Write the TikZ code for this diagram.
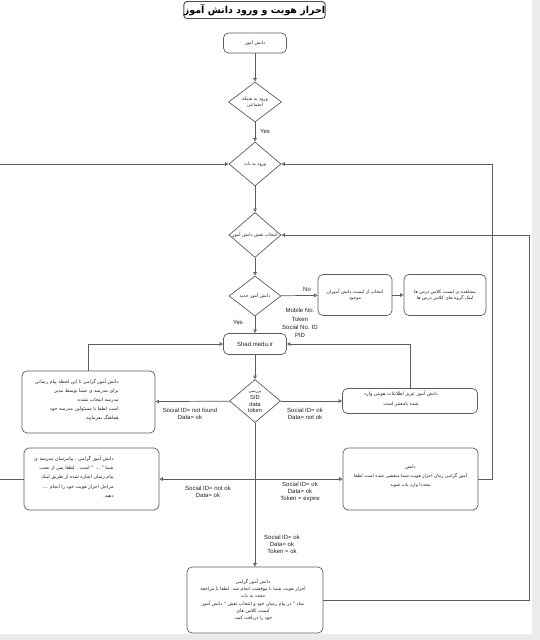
\documentclass[tikz,border=0pt]{standalone}
\usepackage{fontspec}
\setmainfont{Liberation Sans}
\newfontfamily\arabicfont[Script=Arabic]{DejaVu Sans}
\TeXXeTstate=1
\usetikzlibrary{shapes.geometric,arrows.meta}
\newcommand\fa[1]{{\arabicfont\beginR #1\endR}}
\definecolor{linec}{HTML}{5C5C5C}
\definecolor{txt}{HTML}{222222}
\begin{document}
\begin{tikzpicture}[x=1pt,y=-1pt,line width=0.7pt,
  box/.style={draw=linec, rounded corners=5pt, fill=white, inner sep=0pt},
  dia/.style={draw=linec, diamond, fill=white, inner sep=0pt},
  conn/.style={draw=linec, -{Triangle[open,length=3.5pt,width=3.5pt]}},
  plain/.style={draw=linec},
  fa/.style={font=\fontsize{4.6}{5.8}\selectfont, text=txt, align=center, inner sep=0pt},
  lab/.style={font=\fontsize{6}{7}\selectfont, text=txt, align=center, inner sep=0pt},
]
\useasboundingbox (0,0) rectangle (540,640);
\fill[white] (0,0) rectangle (540,640);
\fill[black!8] (532,0) rectangle (540,640);
\fill[black!8] (0,634) rectangle (540,640);

% title
\node[box, draw=black!70, line width=0.9pt, minimum width=135pt, minimum height=17pt, rounded corners=3pt] (title) at (254.5,10)
  {\fontsize{9.5}{11}\selectfont\bfseries\fa{احراز هویت و ورود دانش آموز}};

% main column
\node[box, minimum width=63pt, minimum height=20pt] (start) at (255,43) {};
\node[fa] (startt) at (start) {\fa{دانش آموز}};
\node[dia, minimum width=53pt, minimum height=40pt] (d1) at (255,102) {};
\node[fa] (d1t) at (d1) {\fa{ورود به شبکه}\\\fa{اجتماعی}};
\node[dia, minimum width=52pt, minimum height=44pt] (d2) at (255,164) {};
\node[fa] (d2t) at (d2) {\fa{ورود به بات}};
\node[dia, minimum width=52pt, minimum height=45pt] (d3) at (255,235) {};
\node[fa] (d3t) at (d3) {\fa{انتخاب نقش دانش آموز}};
\node[dia, minimum width=52pt, minimum height=40pt] (d4) at (255,296) {};
\node[fa] (d4t) at (d4) {\fa{دانش آموز جدید}};
\node[box, minimum width=74pt, minimum height=41pt] (box5) at (355,295) {};
\node[fa] (box5t) at (box5) {\fa{انتخاب از لیست دانش آموزان}\\\fa{موجود}};
\node[box, minimum width=82pt, minimum height=41pt] (box6) at (445,295) {};
\node[fa] (box6t) at (box6) {\fa{مشاهده ی لیست کلاس درس ها}\\\fa{لینک گروه های کلاس درس ها}};
\node[box, minimum width=63pt, minimum height=21pt] (shad) at (255,344) {};
\node[lab] (shadt) at (shad) {Shad.medu.ir};
\node[dia, minimum width=51pt, minimum height=43pt] (d5) at (255,401) {};
\node[lab, font=\fontsize{5.8}{6.6}\selectfont] (d5t) at (255,402) {{\fontsize{4.3}{5}\selectfont\fa{بررسی}}\\SID\\data\\token};

% side boxes
\node[box, minimum width=133pt, minimum height=62pt] (box7) at (88.5,402) {};
\node[fa, align=right, font=\fontsize{4.8}{9}\selectfont, anchor=east] (box7t) at (119,400)
  {\fa{دانش آموز گرامی تا این لحظه پیام رسانی}\\\fa{برای مدرسه ی شما توسط مدیر}\\\fa{مدرسه انتخاب نشده}\\\fa{است لطفا با مسئولین مدرسه خود}\\\fa{هماهنگ بفرمایید.}};
\node[box, minimum width=135pt, minimum height=25pt] (box8) at (410,401) {};
\node[fa, font=\fontsize{4.8}{10}\selectfont] (box8t) at (401,399) {\fa{دانش آموز عزیز اطلاعات هویتی وارد}\\\fa{شده نامعتبر است}};
\node[box, minimum width=135pt, minimum height=62pt] (box9) at (91.5,479) {};
\node[fa, align=right, font=\fontsize{4.8}{9.3}\selectfont, anchor=east] (box9t) at (114,477)
  {\fa{دانش آموز گرامی ، پیامرسان مدرسه ی}\\\fa{شما " ... " است . لطفا پس از نصب}\\\fa{پیام رسان اشاره شده از طریق لینک}\\.... \fa{مراحل احراز هویت خود را انجام}\\\fa{دهید.}};
\node[box, minimum width=135pt, minimum height=62pt] (box10) at (410.5,479) {};
\node[fa, font=\fontsize{4.6}{9}\selectfont] (box10t) at (410.5,476) {\fa{دانش}\\\fa{آموز گرامی زمان احراز هویت شما منقضی شده است لطفا}\\\fa{مجددا وارد بات شوید}};
\node[box, minimum width=136pt, minimum height=66pt] (final) at (255,600) {};
\node[fa, font=\fontsize{4.7}{7.3}\selectfont] (finalt) at (253,600)
  {\fa{دانش آموز گرامی}\\\fa{احراز هویت شما با موفقیت انجام شد. لطفا با مراجعه}\\\fa{مجدد به بات}\\\fa{شاد " در پیام رسان خود و انتخاب نقش " دانش آموز}\\\fa{لیست کلاس های}\\\fa{خود را دریافت کنید.}};

% coordinates
\coordinate (j) at (255,479);
\coordinate (r1) at (492,479);
\coordinate (r2) at (529,600);
\coordinate (le1) at (0,164);
\coordinate (le2) at (0,479);

% connectors
\draw[conn] (start) -- (d1);
\draw[conn] (d1) -- (d2);
\draw[conn] (d2) -- (d3);
\draw[conn] (d3) -- (d4);
\draw[conn] (d4) -- (box5);
\draw[conn] (box5) -- (box6);
\draw[conn] (d4) -- (shad);
\draw[conn] (shad) -- (d5);
\draw[conn] (d5) -- (box7);
\draw[conn] (d5) -- (box8);
\draw[conn] (box7.north) |- (shad.west);
\draw[conn] (box8.north) |- (shad.east);
\draw[conn] (d5.south) -- (final.north);
\draw[conn] (j) -- (box9.east);
\draw[conn] (j) -- (box10.west);
\draw[conn] (box10.east) -- (r1) |- (d2.east);
\draw[conn] (final.east) -- (r2) |- (d3.east);
\draw[plain] (box9.west) -- (le2);
\draw[conn] (le1) -- (d2.west);

% labels
\node[lab] (yes1) at (265,131) {Yes};
\node[lab] (no1) at (307,289) {No};
\node[lab] (yes2) at (238,322) {Yes};
\node[lab, font=\fontsize{6}{8.3}\selectfont] (mob) at (300,323) {Mobile No.\\Token\\Social No. ID\\PID};
\node[lab] (l1) at (190,414) {Social ID= not found\\Data= ok};
\node[lab] (l2) at (305,414) {Social ID= ok\\Data= not ok};
\node[lab] (l3) at (208,492) {Social ID= not ok\\Data= ok};
\node[lab] (l4) at (300,492) {Social ID= ok\\Data= ok\\Token = expire};
\node[lab] (l5) at (282,544) {Social ID= ok\\Data= ok\\Token = ok};
\end{tikzpicture}
\end{document}
